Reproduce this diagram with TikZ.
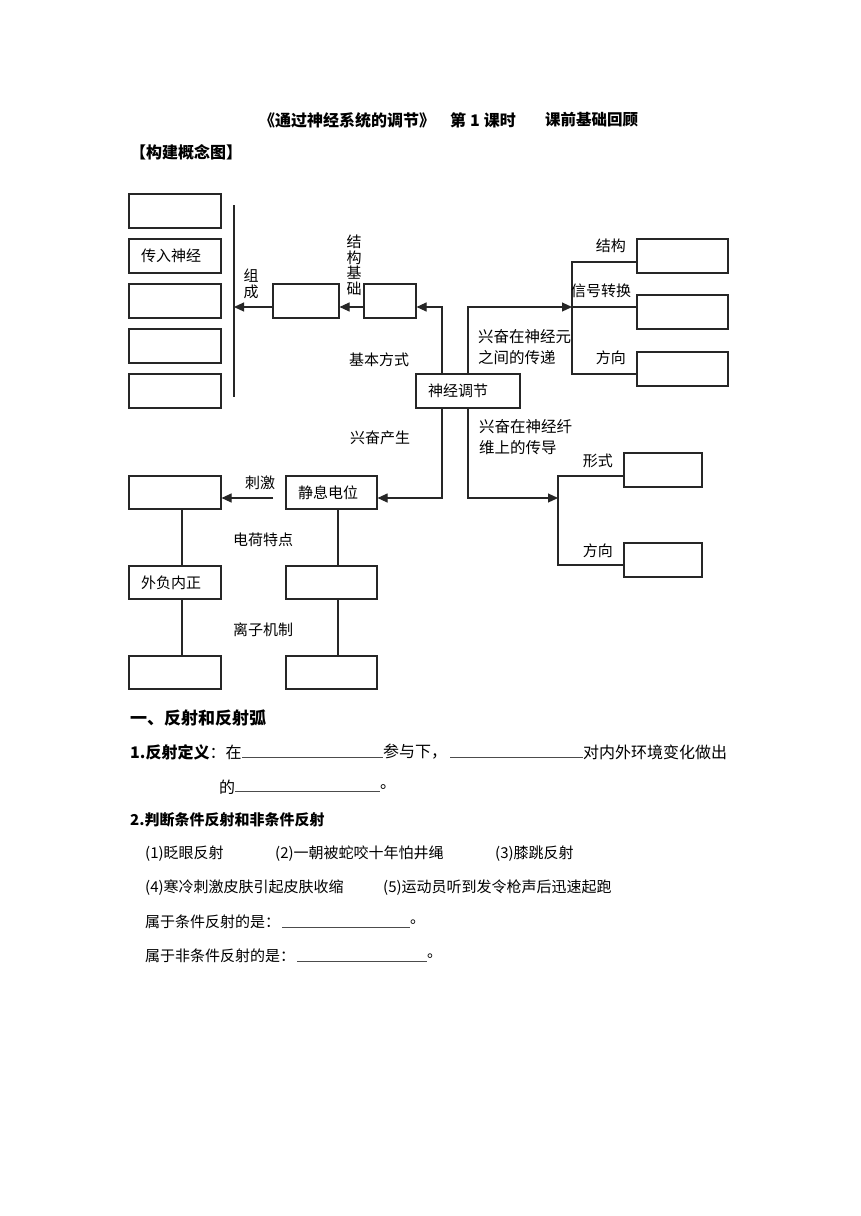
\documentclass[tikz,border=0pt]{standalone}
\usepackage{fontspec}
\setmainfont{Noto Sans CJK SC}
\usetikzlibrary{arrows.meta,calc}
\begin{document}
\begin{tikzpicture}[x=1pt,y=-1pt,
  every node/.style={inner sep=0pt, font=\fontsize{15}{15}\selectfont},
  box/.style={draw=black!85, line width=1.1pt, minimum height=34pt, inner xsep=12pt, inner ysep=0pt, align=left},
  arr/.style={line width=1.1pt, draw=black!85, -{Triangle[length=10pt,width=9pt]}},
  ln/.style={line width=1.1pt, draw=black!85},
  uline/.style={line width=0.8pt, draw=black!70},
  lbl/.style={font=\fontsize{15}{15}\selectfont},
  two/.style={align=left, font=\fontsize{15.5}{21}\selectfont},
  vert/.style={align=center, font=\fontsize{15}{15.5}\selectfont},
  body/.style={anchor=west, font=\fontsize{15}{15}\selectfont},
  bodyl/.style={anchor=west, font=\fontsize{16}{16}\selectfont}
]
\fill[white] (0,0) rectangle (860,1216);
\useasboundingbox (0,0) rectangle (860,1216);

% ---- title ----
\node[anchor=west, font=\bfseries\fontsize{16}{16}\selectfont] (title) at (259,120) {《通过神经系统的调节》\hspace{15pt}第\hspace{4pt}1\hspace{4pt}课时};
\node[anchor=west, font=\bfseries\fontsize{15.5}{15.5}\selectfont] (title2) at (545,120) {课前基础回顾};
\node[anchor=west, font=\bfseries\fontsize{16}{16}\selectfont] (head) at (130,152) {【构建概念图】};

% ---- boxes ----
\node[box, minimum width=92pt] (L1) at (175,211) {};
\node[box, text width=68pt] (L2) at (175,256) {传入神经};
\node[box, minimum width=92pt] (L3) at (175,301) {};
\node[box, minimum width=92pt] (L4) at (175,346) {};
\node[box, minimum width=92pt] (L5) at (175,391) {};
\node[box, minimum width=66pt] (A) at (306,301) {};
\node[box, minimum width=52pt] (B) at (390,301) {};
\node[box, text width=80pt] (N) at (468,391) {神经调节};
\node[box, minimum width=91pt] (R1) at (682.5,256) {};
\node[box, minimum width=91pt] (R2) at (682.5,312) {};
\node[box, minimum width=91pt] (R3) at (682.5,369) {};
\node[box, text width=67pt, minimum height=33pt] (S) at (331.5,492.5) {静息电位};
\node[box, minimum width=92pt, minimum height=33pt] (K) at (175,492.5) {};
\node[box, text width=68pt, minimum height=33pt] (KQ) at (175,582.5) {外负内正};
\node[box, minimum width=92pt, minimum height=33pt] (KB) at (175,672.5) {};
\node[box, minimum width=91pt, minimum height=33pt] (SQ) at (331.5,582.5) {};
\node[box, minimum width=91pt, minimum height=33pt] (SB) at (331.5,672.5) {};
\node[box, minimum width=78pt] (F1) at (663,470) {};
\node[box, minimum width=78pt] (F2) at (663,560) {};

% ---- upper connectors ----
\coordinate (bartop) at (234,205);
\coordinate (barbot) at (234,397);
\draw[ln] (bartop) -- (barbot);
\coordinate (hy) at (0,307);
\coordinate (upx) at (442,0);
\draw[arr] (A.west |- hy) -- (bartop |- hy);
\draw[arr] (B.west |- hy) -- (A.east |- hy);
\draw[arr] (N.north -| upx) |- (B.east |- hy);
\coordinate (sj) at (572,307);
\coordinate (st) at (572,262);
\coordinate (sb) at (572,374);
\draw[arr] (N.north) |- (sj);
\draw[ln] (R1.west |- st) -- (st) -- (sb) -- (R3.west |- sb);
\draw[ln] (sj) -- (R2.west |- sj);

% ---- lower connectors ----
\coordinate (dy) at (0,498);
\draw[arr] (N.south -| upx) |- (S.east |- dy);
\coordinate (fj) at (558,498);
\coordinate (ft) at (558,476);
\coordinate (fb) at (558,565);
\draw[arr] (N.south) |- (fj);
\draw[ln] (F1.west |- ft) -- (ft) -- (fb) -- (F2.west |- fb);
\coordinate (kst) at (273,498);
\draw[arr] (kst) -- (K.east |- kst);
\coordinate (lx) at (182,0);
\coordinate (rx) at (338,0);
\draw[ln] (K.south -| lx) -- (KQ.north -| lx);
\draw[ln] (KQ.south -| lx) -- (KB.north -| lx);
\draw[ln] (S.south -| rx) -- (SQ.north -| rx);
\draw[ln] (SQ.south -| rx) -- (SB.north -| rx);

% ---- labels ----
\node[vert] (zc) at (251,284) {组\\成};
\node[vert] (jg) at (354,265) {结\\构\\基\\础};
\node[lbl] (jbfs) at (379,360) {基本方式};
\node[lbl] (xfcs) at (380,438) {兴奋产生};
\node[lbl, anchor=west] (cj) at (245,483) {刺激};
\node[lbl, anchor=west] (dhtd) at (233,540) {电荷特点};
\node[lbl, anchor=west] (lzjz) at (233,630) {离子机制};
\node[lbl, anchor=east] (jgl) at (626,246) {结构};
\node[lbl, anchor=west] (xhzh) at (571,291) {信号转换};
\node[lbl, anchor=east] (fx1) at (626,358) {方向};
\node[lbl, anchor=east] (xs) at (613,461) {形式};
\node[lbl, anchor=east] (fx2) at (613,551) {方向};
\node[two, anchor=west] (cd1) at (478,347.5) {兴奋在神经元\\之间的传递};
\node[two, anchor=west] (cd2) at (479,437) {兴奋在神经纤\\维上的传导};

% ---- text section ----
\node[anchor=west, font=\bfseries\fontsize{17}{17}\selectfont] (s1) at (130,718) {一、反射和反射弧};
\node[bodyl] (d1) at (130,752) {\textbf{1.反射定义}：在};
\draw[uline] (242,757) -- (383,757);
\node[bodyl] (d2) at (383,752) {参与下，};
\draw[uline] (450,757) -- (583,757);
\node[bodyl] (d3) at (583,752) {对内外环境变化做出};
\node[bodyl] (d4) at (219,787) {的};
\draw[uline] (235,791) -- (380,791);
\node[bodyl] (d5) at (380,787) {。};
\node[anchor=west, font=\bfseries\fontsize{15}{15}\selectfont] (q2) at (130,820) {2.判断条件反射和非条件反射};
\node[body] (o1) at (145,854) {(1)眨眼反射};
\node[body] (o2) at (275,854) {(2)一朝被蛇咬十年怕井绳};
\node[body] (o3) at (495,854) {(3)膝跳反射};
\node[body] (o4) at (145,888) {(4)寒冷刺激皮肤引起皮肤收缩};
\node[body] (o5) at (383,888) {(5)运动员听到发令枪声后迅速起跑};
\node[body] (a1) at (145,922) {属于条件反射的是：};
\draw[uline] (282,927) -- (410,927);
\node[body] (a1e) at (410,922) {。};
\node[body] (a2) at (145,956) {属于非条件反射的是：};
\draw[uline] (297,961) -- (427,961);
\node[body] (a2e) at (427,956) {。};
\end{tikzpicture}
\end{document}
